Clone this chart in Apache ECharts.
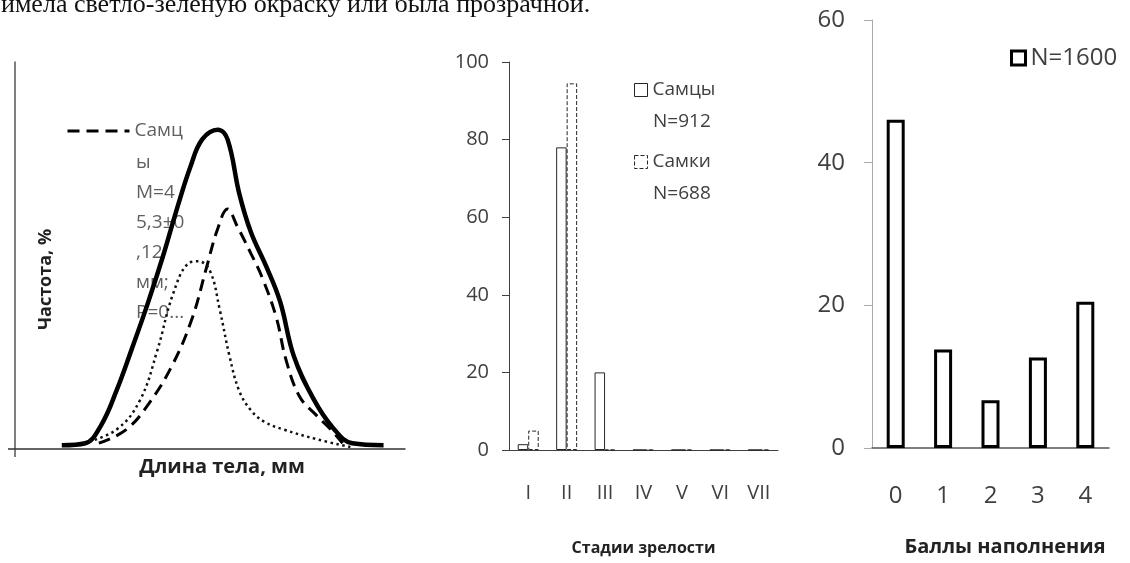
<!DOCTYPE html>
<html>
<head>
<meta charset="utf-8">
<script src="https://cdn.jsdelivr.net/npm/echarts@6.0.0/dist/echarts.min.js"></script>
<style>
html, body { margin: 0; padding: 0; background: #fff; }
#chart { width: 1130px; height: 563px; }
</style>
</head>
<body>
<div id="chart"></div>
<script>
// левый график: кривые распределения длины тела, [длина (усл.), частота (усл.)]
const totalCurve = [[12, 1], [18, 1.5], [22, 6], [26, 15], [30, 26], [34, 37.5], [38, 50], [41.5, 62], [45, 73], [48, 80], [52, 82.5], [54.5, 80], [57.5, 66], [60.5, 56], [64.5, 47], [68, 38], [71.5, 24], [76.5, 13], [81.5, 5.5], [86.5, 1.5], [94.5, 1]]
const maleCurve = [[21.5, 1.5], [28.5, 5], [34.5, 12], [40.5, 22], [45.5, 34], [49, 46.5], [52, 57], [54.5, 62], [57, 57.5], [60.5, 50.5], [63.5, 44], [67, 34], [69.5, 23], [73, 13.5], [77.5, 8.5], [81, 5], [84, 1.5]]
const femaleCurve = [[17.5, 1.5], [26, 5], [32, 12.5], [36.5, 25.5], [40.5, 40], [44.5, 48], [47, 48.5], [50, 46], [52.5, 36], [55, 24], [57.5, 15], [60.5, 10], [64, 7], [69, 5], [77.5, 2.5], [86, 0.5]]
const maleName = 'Самцы M=45,3±0,12 мм; P=0...'

// средний график: стадии зрелости, %
const stages = ['I', 'II', 'III', 'IV', 'V', 'VI', 'VII']
const malesStage = [1.5, 78, 20, 0, 0, 0, 0]
const femalesStage = [5, 94.5, 0, 0, 0, 0, 0]

// правый график: баллы наполнения, %
const fullness = ['0', '1', '2', '3', '4']
const fullnessPct = [46, 13.8, 6.7, 12.7, 20.5]

const font = 'Open Sans'
const myChart = echarts.init(document.getElementById('chart'))

const option = {
  animation: false,
  textStyle: { fontFamily: font },
  graphic: [
    {
      type: 'text',
      left: 1,
      top: -8,
      z: 0,
      style: {
        text: 'имела светло-зеленую окраску или была прозрачной.',
        font: '26px "Liberation Serif"',
        fill: '#111'
      }
    },
    // перенос подписи легенды, как в исходной диаграмме
    {
      type: 'text',
      left: 136,
      top: 148,
      z: 0,
      style: {
        text: 'ы\nM=4\n5,3±0\n,12\nмм;\nP=0...',
        font: '19px "Open Sans"',
        lineHeight: 30,
        fill: '#606060'
      }
    },
    {
      type: 'text',
      left: 653,
      top: 112,
      style: { text: 'N=912', font: '19px "Open Sans"', fill: '#404040' }
    },
    {
      type: 'text',
      left: 653,
      top: 184,
      style: { text: 'N=688', font: '19px "Open Sans"', fill: '#404040' }
    }
  ],
  grid: [
    { left: 15, top: 62, width: 390, height: 387 },
    { left: 509, top: 62, width: 269, height: 388 },
    { left: 872, top: 20, width: 237, height: 428 }
  ],
  legend: [
    {
      data: [{ name: maleName, itemStyle: { opacity: 0 } }],
      left: 66,
      top: 119,
      padding: 0,
      z: 1,
      itemWidth: 62,
      itemHeight: 14,
      lineStyle: { width: 3, type: [12, 7], color: '#000' },
      formatter: () => 'Самц',
      textStyle: { fontSize: 19, color: '#606060', lineHeight: 24 }
    },
    {
      data: [
        { name: 'Самцы', itemStyle: { color: '#fff', borderColor: '#262626', borderWidth: 1 } },
        { name: 'Самки', itemStyle: { color: '#fff', borderColor: '#262626', borderWidth: 1, borderType: 'dashed' } }
      ],
      orient: 'vertical',
      left: 634,
      top: 78,
      padding: 0,
      icon: 'rect',
      itemWidth: 13,
      itemHeight: 13,
      itemGap: 48,
      textStyle: { fontSize: 19, color: '#404040', lineHeight: 24 }
    },
    {
      data: [{ name: 'N=1600', itemStyle: { color: '#fff', borderColor: '#000', borderWidth: 3 } }],
      left: 1010,
      top: 46,
      padding: 0,
      icon: 'rect',
      itemWidth: 14,
      itemHeight: 14,
      textStyle: { fontSize: 24, color: '#404040' }
    }
  ],
  xAxis: [
    {
      gridIndex: 0,
      type: 'value',
      min: 0,
      max: 100,
      axisLine: { show: true, lineStyle: { color: '#333', width: 1.5 } },
      axisTick: { show: true, customValues: [0], length: 8, lineStyle: { color: '#555', width: 1.5 } },
      axisLabel: { show: false },
      splitLine: { show: false },
      name: 'Длина тела, мм',
      nameLocation: 'middle',
      nameGap: 8,
      nameTextStyle: { fontSize: 20, fontWeight: 'bold', color: '#222', padding: [0, 0, 0, 24] }
    },
    {
      gridIndex: 1,
      type: 'category',
      data: stages,
      axisLine: { lineStyle: { color: '#404040' } },
      axisTick: { length: 9, lineStyle: { color: '#404040' } },
      axisLabel: { fontSize: 20, color: '#404040', margin: 33 },
      name: 'Стадии зрелости',
      nameLocation: 'middle',
      nameGap: 90,
      nameTextStyle: { fontSize: 16, fontWeight: 'bold', color: '#222' }
    },
    {
      gridIndex: 2,
      type: 'category',
      data: fullness,
      axisLine: { lineStyle: { color: '#555', width: 1.5 } },
      axisTick: { length: 9, lineStyle: { color: '#555' } },
      axisLabel: { fontSize: 24, color: '#404040', margin: 36 },
      name: 'Баллы наполнения',
      nameLocation: 'middle',
      nameGap: 89,
      nameTextStyle: { fontSize: 20, fontWeight: 'bold', color: '#222', padding: [0, 0, 0, 29] }
    }
  ],
  yAxis: [
    {
      gridIndex: 0,
      type: 'value',
      min: 0,
      max: 100,
      axisLine: { show: true, lineStyle: { color: '#555', width: 1.5 } },
      axisTick: { show: true, customValues: [0], length: 7, lineStyle: { color: '#333', width: 1.5 } },
      axisLabel: { show: false },
      splitLine: { show: false },
      name: 'Частота, %',
      nameLocation: 'middle',
      nameRotate: 90,
      nameGap: -40,
      nameTextStyle: { fontSize: 18, fontWeight: 'bold', color: '#222', padding: [0, 48, 0, 0] }
    },
    {
      gridIndex: 1,
      type: 'value',
      min: 0,
      max: 100,
      interval: 20,
      axisLine: { show: true, lineStyle: { color: '#404040' } },
      axisTick: { show: true, length: 7, lineStyle: { color: '#404040' } },
      axisLabel: { fontSize: 20, color: '#404040', margin: 20 },
      splitLine: { show: false }
    },
    {
      gridIndex: 2,
      type: 'value',
      min: 0,
      max: 60,
      interval: 20,
      axisLine: { show: true, lineStyle: { color: '#aaa' } },
      axisTick: { show: true, length: 8, lineStyle: { color: '#aaa' } },
      axisLabel: { fontSize: 24, color: '#404040', margin: 27 },
      splitLine: { show: false }
    }
  ],
  series: [
    {
      name: 'Всего',
      type: 'line',
      xAxisIndex: 0,
      yAxisIndex: 0,
      data: totalCurve,
      smooth: 0.4,
      symbol: 'none',
      z: 3,
      lineStyle: { color: '#000', width: 4.5 }
    },
    {
      name: maleName,
      type: 'line',
      xAxisIndex: 0,
      yAxisIndex: 0,
      data: maleCurve,
      smooth: 0.4,
      symbol: 'none',
      z: 3,
      itemStyle: { color: '#000' },
      lineStyle: { color: '#000', width: 3, type: [12, 7] }
    },
    {
      name: 'Самки (длина)',
      type: 'line',
      xAxisIndex: 0,
      yAxisIndex: 0,
      data: femaleCurve,
      smooth: 0.4,
      symbol: 'none',
      z: 3,
      lineStyle: { color: '#111', width: 2.5, type: [2.5, 3.5] }
    },
    {
      name: 'Самцы',
      type: 'bar',
      xAxisIndex: 1,
      yAxisIndex: 1,
      data: malesStage,
      barWidth: 10.5,
      barGap: '0%',
      itemStyle: { color: '#fff', borderColor: '#262626', borderWidth: 1 }
    },
    {
      name: 'Самки',
      type: 'bar',
      xAxisIndex: 1,
      yAxisIndex: 1,
      data: femalesStage,
      barWidth: 10.5,
      barGap: '0%',
      itemStyle: { color: '#fff', borderColor: '#262626', borderWidth: 1, borderType: 'dashed' }
    },
    {
      name: 'N=1600',
      type: 'bar',
      xAxisIndex: 2,
      yAxisIndex: 2,
      data: fullnessPct,
      barWidth: 18,
      itemStyle: { color: '#fff', borderColor: '#000', borderWidth: 3 }
    }
  ]
}

myChart.setOption(option)
</script>
</body>
</html>
